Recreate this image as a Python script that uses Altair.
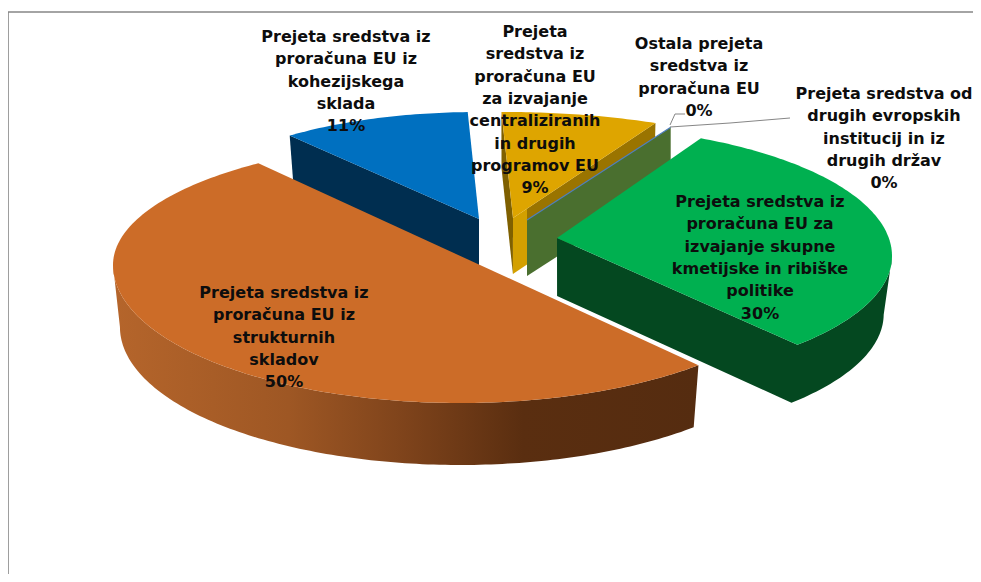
import math
import altair as alt
import pandas as pd

# ---- data
names = ["green", "orange", "blue", "yellow", "other1", "other2"]
shares = [30, 50, 11, 9, 0, 0]
first_angle = 30.0

label_x = [346, 535, 699, 884, 760, 284]
label_y0 = [37, 32, 44, 94, 202, 293]
label_lines = [
    ["Prejeta sredstva iz", "proračuna  EU iz", "kohezijskega", "sklada", "11%"],
    ["Prejeta", "sredstva iz", "proračuna  EU", "za izvajanje", "centraliziranih", "in drugih", "programov EU", "9%"],
    ["Ostala prejeta", "sredstva iz", "proračuna  EU", "0%"],
    ["Prejeta sredstva od", "drugih evropskih", "institucij in iz", "drugih držav", "0%"],
    ["Prejeta sredstva iz", "proračuna  EU za", "izvajanje skupne", "kmetijske in ribiške", "politike", "30%"],
    ["Prejeta sredstva iz", "proračuna  EU iz", "strukturnih", "skladov", "50%"],
]

# ---- layout of the tilted, exploded disc: apex, ellipse centre, radii, ray stretch, wall height
geom = {
    "green":  dict(ax=557, ay=238, cx=560, cy=256, a=332, bb=130, bf=127, k=2.5, h=58, sx=0.975),
    "orange": dict(ax=480, ay=265, cx=460, cy=265, a=347, bb=125, bf=138, k=2.42, h=62, sx=0.98),
    "blue":   dict(ax=479, ay=219, cx=478, cy=220, a=302, bb=108, bf=108, k=2.52, h=50, sx=0.98),
    "yellow": dict(ax=513, ay=218, cx=505, cy=220, a=341, bb=108, bf=108, k=2.60, h=56, sx=0.99),
    "other":  dict(ax=527, ay=220, cx=525, cy=222, a=340, bb=105, bf=105, k=2.68, h=56, sx=1.0),
}


def rim(g, deg):
    t = math.radians(deg)
    dx, dy = g["k"] * math.sin(t), -math.cos(t)
    n = math.hypot(dx, dy)
    dx, dy = dx / n, dy / n
    lo, hi = 0.0, 1000.0
    for _ in range(50):
        r = (lo + hi) / 2
        x, y = g["ax"] + r * dx, g["ay"] + r * dy
        b = g["bb"] if y < g["cy"] else g["bf"]
        if ((x - g["cx"]) / g["a"]) ** 2 + ((y - g["cy"]) / b) ** 2 < 1:
            lo = r
        else:
            hi = r
    return (g["ax"] + lo * dx, g["ay"] + lo * dy)


def arc(g, a0, a1):
    steps = max(2, int(abs(a1 - a0)))
    return [rim(g, a0 + (a1 - a0) * i / steps) for i in range(steps + 1)]


def low(g, p):
    return (g["cx"] + g["sx"] * (p[0] - g["cx"]), p[1] + g["h"])


angles = {}
cum = first_angle
for n_, s in zip(names, shares):
    angles[n_] = (cum, cum + s * 3.6)
    cum += s * 3.6


def poly(points, fill, stroke=None, sw=0):
    df = pd.DataFrame({"x": [p[0] for p in points], "y": [p[1] for p in points], "i": range(len(points))})
    kw = dict(fill=fill, interpolate="linear-closed", strokeWidth=sw, clip=False)
    kw["stroke"] = stroke if stroke else "transparent"
    return alt.Chart(df).mark_line(**kw).encode(x=X, y=Y, order="i:Q")


X = alt.X("x:Q", scale=alt.Scale(domain=[8, 973], nice=False, zero=False), axis=None)
Y = alt.Y("y:Q", scale=alt.Scale(domain=[574, 8], nice=False, zero=False), axis=None)


def grad(stops):
    return alt.LinearGradient(
        gradient="linear", x1=0, x2=1, y1=0, y2=0,
        stops=[alt.GradientStop(offset=o, color=c) for o, c in stops],
    )


layers = []

# frame lines
for pts in ([(8, 12), (973, 12)], [(8, 12), (8, 574)]):
    df = pd.DataFrame({"x": [p[0] for p in pts], "y": [p[1] for p in pts]})
    layers.append(alt.Chart(df).mark_line(color="#868686", strokeWidth=1.6).encode(x=X, y=Y))

# blue
g = geom["blue"]
a0, a1 = angles["blue"]
top = arc(g, a0, a1)
apex = (g["ax"], g["ay"])
layers.append(poly([top[0], apex, low(g, apex), low(g, top[0])], "#002e50"))
layers.append(poly([apex] + top, "#0070c0"))

# yellow
g = geom["yellow"]
a0, a1 = angles["yellow"]
top = arc(g, a0, a1)
apex = (g["ax"], g["ay"])
layers.append(poly([top[0], apex, low(g, apex), low(g, top[0])], "#7f6000"))
layers.append(poly([top[-1], apex, low(g, apex), low(g, top[-1])],
                   grad([(0, "#d3a000"), (0.1, "#d3a000"), (0.1, "#9a7400"), (1, "#9a7400")])))
layers.append(poly([apex] + top, "#dea500"))

# the two 0% slices: only their cut face shows
g = geom["other"]
a0, _ = angles["other1"]
corner = rim(g, a0)
apex = (g["ax"], g["ay"])
layers.append(poly([corner, apex, low(g, apex), low(g, corner)], "#4a6f2f"))
df = pd.DataFrame({"x": [apex[0], corner[0]], "y": [apex[1], corner[1]]})
layers.append(alt.Chart(df).mark_line(color="#4f7fbf", strokeWidth=1.2).encode(x=X, y=Y))

# leader lines
for pts in ([(685, 114), (675, 114), (670, 125)], [(670, 127), (730, 123), (790, 118)]):
    df = pd.DataFrame({"x": [p[0] for p in pts], "y": [p[1] for p in pts], "i": range(len(pts))})
    layers.append(alt.Chart(df).mark_line(color="#868686", strokeWidth=1).encode(x=X, y=Y, order="i:Q"))

# green
g = geom["green"]
a0, a1 = angles["green"]
top = arc(g, a0, a1)
apex = (g["ax"], g["ay"])
m = max(range(len(top)), key=lambda i: top[i][0])
front = top[m:]
layers.append(poly(front + [apex, low(g, apex)] + [low(g, p) for p in reversed(front)], "#044820"))
layers.append(poly([apex] + top, "#00b050"))

# orange
g = geom["orange"]
a0, a1 = angles["orange"]
top = arc(g, a0, a1)
apex = (g["ax"], g["ay"])
m = min(range(len(top)), key=lambda i: top[i][0])
front = top[: m + 1]
layers.append(poly(front + [low(g, p) for p in reversed(front)],
                   grad([(0, "#b5652b"), (0.3, "#9e5724"), (0.5, "#7e431b"), (0.7, "#5a2e10"), (1, "#552c10")])))
layers.append(poly([apex] + top, "#cc6c28"))

# labels
rows = []
for lx, ly, lines in zip(label_x, label_y0, label_lines):
    for i, s in enumerate(lines):
        rows.append({"x": lx, "y": ly + i * 22.3, "t": s})
layers.append(
    alt.Chart(pd.DataFrame(rows))
    .mark_text(font="DejaVu Sans", fontWeight="bold", fontSize=16, color="#0d0d0d", align="center", baseline="middle")
    .encode(x=X, y=Y, text="t:N")
)

chart = (
    alt.layer(*layers)
    .properties(width=965, height=566, padding=0, autosize=alt.AutoSizeParams(type="none"))
    .configure_view(stroke=None)
)
chart.save("out.html", embed_options={"renderer": "svg", "actions": False})
